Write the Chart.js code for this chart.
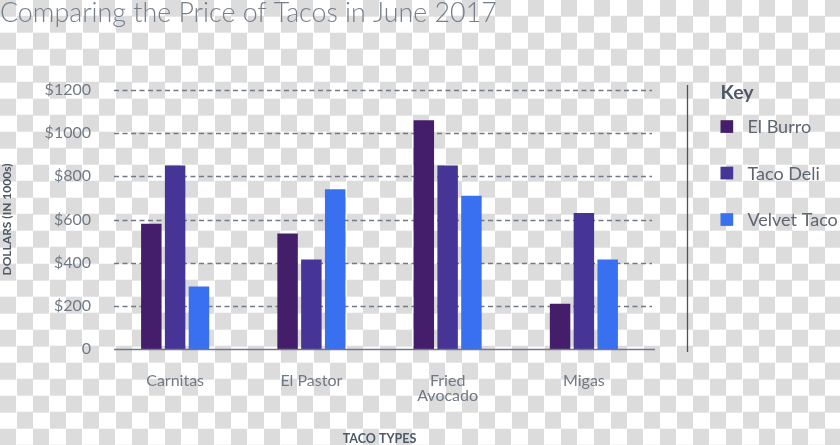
<!DOCTYPE html>
<html>
<head>
<meta charset="utf-8">
<title>Comparing the Price of Tacos in June 2017</title>
<script src="https://cdn.jsdelivr.net/npm/chart.js@4.4.1/dist/chart.umd.min.js"></script>
<style>
    html, body {
        margin: 0;
        padding: 0;
    }
    body {
        width: 840px;
        height: 445px;
        overflow: hidden;
        background-color: #fff;
        background-image: conic-gradient(#fff 25%, #dcdcdc 0 50%, #fff 0 75%, #dcdcdc 0);
        background-size: 33px 33px;
        background-position: 0 -0.3px;
    }
    #chartBox {
        position: relative;
        width: 840px;
        height: 445px;
    }
</style>
</head>
<body>
<div id="chartBox"><canvas id="tacoChart"></canvas></div>
<script>
// Dados do gráfico
const categories = ['Carnitas', 'El Pastor', ['Fried', 'Avocado'], 'Migas'];
const seriesNames = ['El Burro', 'Taco Deli', 'Velvet Taco'];
const elBurro = [580, 535, 1060, 210];
const tacoDeli = [850, 415, 850, 630];
const velvetTaco = [290, 740, 710, 415];
const yTicks = [0, 200, 400, 600, 800, 1000, 1200];

const seriesColors = ['#451e6b', '#463596', '#3870f0'];
const textGray = '#6f7a86';
const darkGray = '#4e5966';

// Linhas de grade tracejadas + linha base
const gridPlugin = {
    id: 'tacoGrid',
    beforeDatasetsDraw(chart) {
        const { ctx, chartArea, scales } = chart;
        ctx.save();
        ctx.strokeStyle = textGray;
        ctx.lineWidth = 1.3;
        ctx.setLineDash([5, 3.5]);
        yTicks.forEach(function(v) {
            if (v === 0) return;
            const y = Math.round(scales.y.getPixelForValue(v)) + 0.5;
            ctx.beginPath();
            ctx.moveTo(chartArea.left + 7, y);
            ctx.lineTo(chartArea.right, y);
            ctx.stroke();
        });
        ctx.restore();
    },
    afterDatasetsDraw(chart) {
        const { ctx, chartArea, scales } = chart;
        const y = scales.y.getPixelForValue(0) + 0.5;
        ctx.save();
        ctx.strokeStyle = textGray;
        ctx.lineWidth = 1.6;
        ctx.beginPath();
        ctx.moveTo(chartArea.left + 7, y);
        ctx.lineTo(chartArea.right + 3, y);
        ctx.stroke();
        ctx.restore();
    }
};

// Legenda "Key" com separador vertical
const keyPlugin = {
    id: 'tacoKey',
    afterDraw(chart) {
        const { ctx, chartArea } = chart;
        const sepX = chartArea.right + 35.5;
        ctx.save();
        ctx.strokeStyle = '#4a525c';
        ctx.lineWidth = 1.3;
        ctx.beginPath();
        ctx.moveTo(sepX, chartArea.top - 5);
        ctx.lineTo(sepX, chartArea.bottom + 3);
        ctx.stroke();

        const left = sepX + 33;
        ctx.textBaseline = 'middle';
        ctx.textAlign = 'left';
        ctx.fillStyle = darkGray;
        ctx.font = 'bold 19.5px Lato, sans-serif';
        ctx.fillText('Key', left, 93);

        ctx.font = '18px Lato, sans-serif';
        chart.data.datasets.forEach(function(ds, i) {
            const cy = 126.5 + i * 46.5;
            ctx.fillStyle = ds.backgroundColor;
            ctx.fillRect(left, cy - 6.3, 12.7, 12.7);
            ctx.fillStyle = '#5b6672';
            ctx.fillText(ds.label, left + 27, cy + 1);
        });
        ctx.restore();
    }
};

const ctx = document.getElementById('tacoChart').getContext('2d');
const tacoChart = new Chart(ctx, {
    type: 'bar',
    data: {
        labels: categories,
        datasets: [
            { label: seriesNames[0], data: elBurro, backgroundColor: seriesColors[0] },
            { label: seriesNames[1], data: tacoDeli, backgroundColor: seriesColors[1] },
            { label: seriesNames[2], data: velvetTaco, backgroundColor: seriesColors[2] }
        ]
    },
    options: {
        responsive: true,
        maintainAspectRatio: false,
        animation: false,
        devicePixelRatio: 1,
        categoryPercentage: 0.524,
        barPercentage: 0.86,
        layout: {
            padding: { left: 0, right: 188, top: 0, bottom: 0 }
        },
        plugins: {
            legend: { display: false },
            tooltip: { enabled: false },
            title: {
                display: true,
                text: 'Comparing the Price of Tacos in June 2017',
                align: 'start',
                color: '#737f8b',
                font: { family: 'Lato', size: 26.8, weight: '300', lineHeight: 1 },
                padding: { top: 0, bottom: 63.2 }
            }
        },
        scales: {
            x: {
                grid: { display: false, drawTicks: false },
                border: { display: false },
                ticks: {
                    color: textGray,
                    padding: 24,
                    maxRotation: 0,
                    autoSkip: false,
                    font: { family: 'Lato', size: 16, lineHeight: 0.95 }
                },
                title: {
                    display: true,
                    text: 'TACO TYPES',
                    color: darkGray,
                    font: { family: 'Lato', size: 12.5, weight: 'bold', lineHeight: 1 },
                    padding: { top: 0, bottom: 0 }
                },
                afterFit(scale) {
                    scale.height = 96;
                }
            },
            y: {
                min: 0,
                max: 1200,
                grid: { display: false, drawTicks: false },
                border: { display: false },
                afterBuildTicks(scale) {
                    scale.ticks = yTicks.map(v => ({ value: v }));
                },
                ticks: {
                    color: textGray,
                    padding: 16,
                    font: { family: 'Lato', size: 16 },
                    callback: v => v === 0 ? '0' : '$' + v
                },
                title: {
                    display: true,
                    text: 'DOLLARS (IN 1000s)',
                    color: darkGray,
                    font: { family: 'Lato', size: 12, weight: 'bold', lineHeight: 1 },
                    padding: { top: 1, bottom: 0 }
                },
                afterFit(scale) {
                    scale.width = 107;
                }
            }
        }
    },
    plugins: [gridPlugin, keyPlugin]
});
</script>
</body>
</html>
